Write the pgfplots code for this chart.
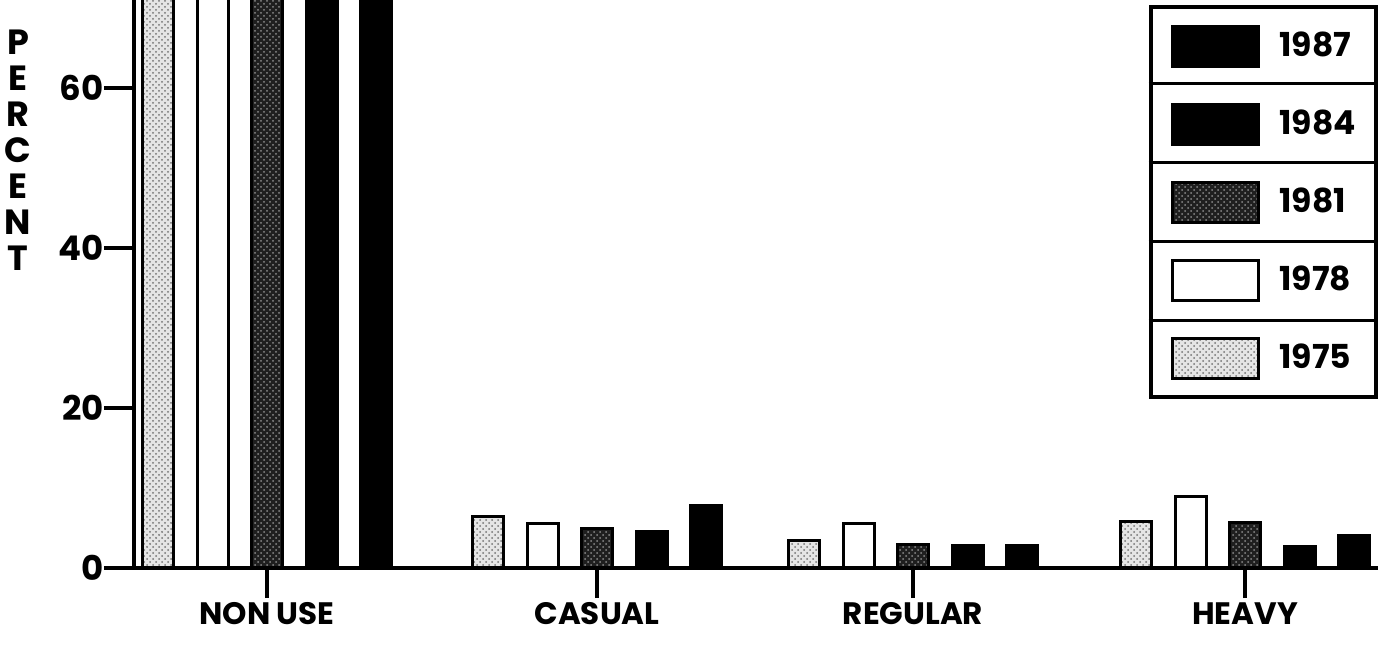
\documentclass[border=0pt]{standalone}
\usepackage{pgfplots}
\pgfplotsset{compat=1.18}
\usepackage{fontspec}
\setmainfont{Poppins}
\usetikzlibrary{patterns,calc}

\pgfplotsset{
  barbase/.style={draw=black, line width=1.5pt, bar width=31},
  myleg/.style={legend image code/.code={\draw[##1, line width=1.5pt] (0pt,-10pt) rectangle (43pt,10pt);}},
}

\begin{document}
\begin{tikzpicture}
\begin{axis}[
  name=ax,
  scale only axis,
  width=622pt, height=284pt,
  xmin=134, xmax=1378, ymin=0, ymax=71,
  axis x line*=bottom, axis y line*=left,
  axis line style={line width=2pt, -},
  ybar=0pt,
  xtick={267,597,913,1245},
  xticklabels={NON USE, CASUAL, REGULAR, HEAVY},
  ytick={0,20,40,60},
  tick align=outside,
  major tick length=15pt,
  tick style={line width=1.8pt, black},
  /pgf/number format/assume math mode=true,
  yticklabel style={font=\bfseries\fontsize{17}{18}\selectfont, inner xsep=0pt},
  xticklabel style={font=\bfseries\fontsize{15.5}{17}\selectfont, inner ysep=2pt},
  reverse legend,
  legend style={name=leg, at={(rel axis cs:1,0.991)}, anchor=north east,
    draw=black, line width=2pt, inner xsep=10pt, inner ysep=0pt,
    column sep=10pt, row sep=0pt,
    nodes={inner sep=0pt, minimum height=39pt, font=\bfseries\fontsize{16.5}{18}\selectfont}},
  legend cell align=left,
]
% 1975
\addplot[barbase, myleg, bar shift=-109, fill=black!10,
  postaction={pattern=crosshatch dots, pattern color=black!55}]
  coordinates {(267,84.4) (597,6.4) (913,3.4) (1245,5.8)};
% 1978
\addplot[barbase, myleg, bar shift=-54.5, fill=white]
  coordinates {(267,79.9) (597,5.6) (913,5.6) (1245,8.9)};
% 1981
\addplot[barbase, myleg, bar shift=0, fill=black!88,
  postaction={pattern=crosshatch dots, pattern color=black!45}]
  coordinates {(267,86.5) (597,4.9) (913,2.9) (1245,5.7)};
% 1984
\addplot[barbase, myleg, bar shift=54.5, fill=black]
  coordinates {(267,90.0) (597,4.5) (913,2.8) (1245,2.7)};
% 1987
\addplot[barbase, myleg, bar shift=109, fill=black]
  coordinates {(267,85.3) (597,7.8) (913,2.8) (1245,4.1)};
\legend{1975,1978,1981,1984,1987}
\end{axis}
\foreach \k in {1,2,3,4}{
  \draw[line width=1.5pt] ($(leg.north west)!\k/5!(leg.south west)$) -- ($(leg.north east)!\k/5!(leg.south east)$);
}
\node[align=center, font=\bfseries\fontsize{17.5}{18}\selectfont, inner sep=0pt]
  at ($(ax.south west)+(-58pt,209pt)$) {P\\E\\R\\C\\E\\N\\T};
\pgfresetboundingbox
\useasboundingbox ($(ax.south west)+(-67pt,-39pt)$) rectangle (ax.north east);
\end{tikzpicture}
\end{document}
